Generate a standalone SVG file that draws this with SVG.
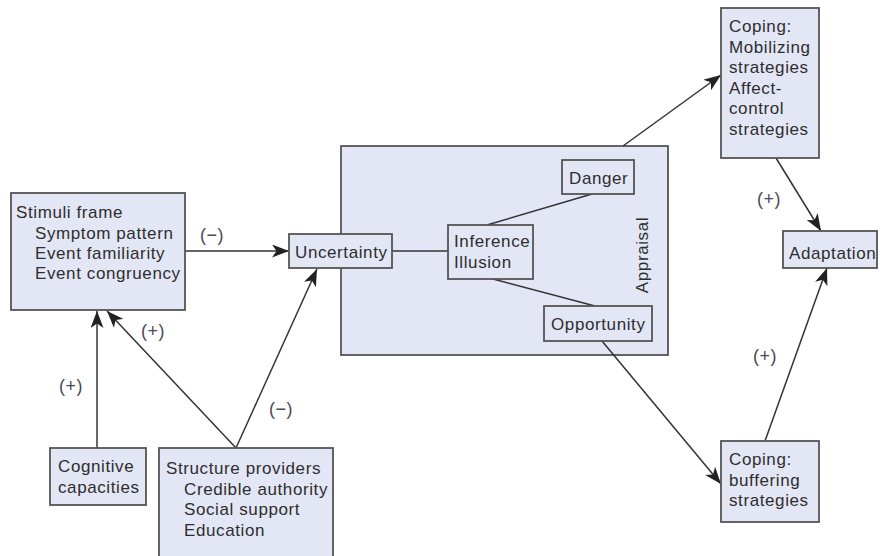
<svg xmlns="http://www.w3.org/2000/svg" width="883" height="556" viewBox="0 0 883 556">
<style>
.box{fill:#e3e6f5;stroke:#555;stroke-width:1.8}
.t{font-family:"Liberation Sans",Arial,sans-serif;font-size:17px;letter-spacing:0.6px;fill:#2e2e2e}
.lbl{font-family:"Liberation Sans",Arial,sans-serif;font-size:18px;letter-spacing:0.5px;fill:#4a4a55;text-anchor:middle}
.c{stroke:#333;stroke-width:1.5;fill:none}
.a{marker-end:url(#ah)}
</style>
<defs>
<marker id="ah" markerUnits="userSpaceOnUse" markerWidth="18" markerHeight="13" refX="17" refY="6.5" orient="auto" viewBox="0 0 18 13">
<path d="M0,0 L17,6.5 L0,13 L4.5,6.5 z" fill="#222"/>
</marker>
</defs>
<rect width="883" height="556" fill="#fff"/>
<g id="appraisal">
<rect class="box" x="341" y="146" width="327" height="209"/>
<text class="t" transform="translate(648,255) rotate(-90)" text-anchor="middle">Appraisal</text>
</g>
<g id="connectors">
<line class="c a" x1="185" y1="251" x2="289" y2="251"/>
<line class="c a" x1="97" y1="448" x2="97" y2="311"/>
<line class="c a" x1="236" y1="448" x2="107" y2="311"/>
<line class="c a" x1="236" y1="448" x2="317" y2="269"/>
<line class="c" x1="392" y1="251" x2="448" y2="251"/>
<line class="c" x1="487" y1="225" x2="592" y2="194"/>
<line class="c" x1="493" y1="279" x2="595" y2="306"/>
<line class="c a" x1="623" y1="146" x2="721" y2="75"/>
<line class="c a" x1="602" y1="341" x2="721" y2="484"/>
<line class="c a" x1="776" y1="158" x2="821" y2="231"/>
<line class="c a" x1="765" y1="441" x2="827" y2="268"/>
<text class="lbl" x="212" y="241">(−)</text>
<text class="lbl" x="71" y="392">(+)</text>
<text class="lbl" x="153" y="337">(+)</text>
<text class="lbl" x="281" y="415">(−)</text>
<text class="lbl" x="769" y="205">(+)</text>
<text class="lbl" x="765" y="362">(+)</text>
</g>
<g id="stimuli">
<rect class="box" x="11" y="193" width="174" height="117"/>
<text class="t" x="16" y="218">Stimuli frame</text>
<text class="t" x="35" y="239">Symptom pattern</text>
<text class="t" x="35" y="259">Event familiarity</text>
<text class="t" x="35" y="279">Event congruency</text>
</g>
<g id="cognitive">
<rect class="box" x="50" y="448" width="96" height="57"/>
<text class="t" x="58" y="472">Cognitive</text>
<text class="t" x="58" y="493">capacities</text>
</g>
<g id="structure">
<rect class="box" x="159" y="448" width="174" height="115"/>
<text class="t" x="166" y="474">Structure providers</text>
<text class="t" x="184" y="495">Credible authority</text>
<text class="t" x="184" y="515">Social support</text>
<text class="t" x="184" y="536">Education</text>
</g>
<g id="uncertainty">
<rect class="box" x="289" y="234" width="103" height="34"/>
<text class="t" x="295" y="258">Uncertainty</text>
</g>
<g id="inference">
<rect class="box" x="448" y="225" width="85" height="54"/>
<text class="t" x="454" y="247">Inference</text>
<text class="t" x="454" y="268">Illusion</text>
</g>
<g id="danger">
<rect class="box" x="562" y="160" width="72" height="34"/>
<text class="t" x="569" y="184">Danger</text>
</g>
<g id="opportunity">
<rect class="box" x="544" y="306" width="108" height="35"/>
<text class="t" x="551" y="330">Opportunity</text>
</g>
<g id="coping-mobilizing">
<rect class="box" x="721" y="8" width="98" height="150"/>
<text class="t" x="729" y="32">Coping:</text>
<text class="t" x="729" y="53">Mobilizing</text>
<text class="t" x="729" y="73">strategies</text>
<text class="t" x="729" y="94">Affect-</text>
<text class="t" x="729" y="114">control</text>
<text class="t" x="729" y="135">strategies</text>
</g>
<g id="adaptation">
<rect class="box" x="783" y="231" width="94" height="37"/>
<text class="t" x="789" y="259">Adaptation</text>
</g>
<g id="coping-buffering">
<rect class="box" x="721" y="441" width="98" height="81"/>
<text class="t" x="729" y="465">Coping:</text>
<text class="t" x="729" y="486">buffering</text>
<text class="t" x="729" y="506">strategies</text>
</g>
</svg>
